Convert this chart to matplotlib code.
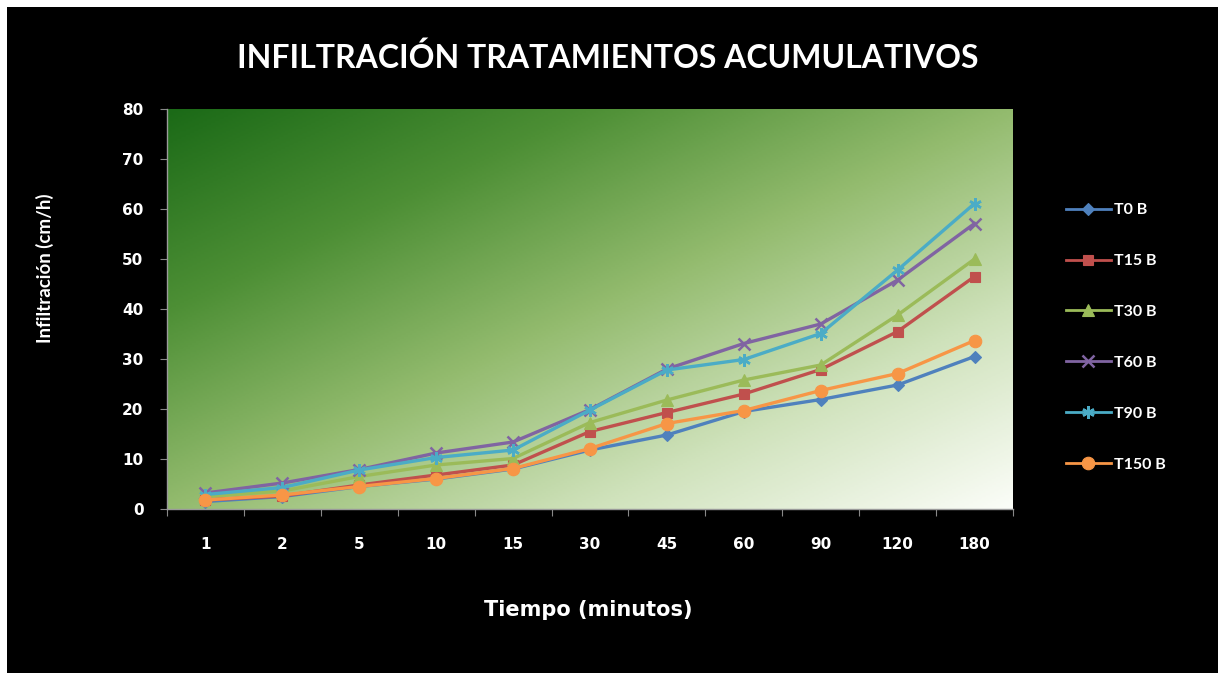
import numpy as np
import matplotlib
matplotlib.use("Agg")
import matplotlib.pyplot as plt
from matplotlib.colors import LinearSegmentedColormap
from matplotlib.patches import Rectangle

# tiempos de medida (min) y series acumuladas (cm/h)
tiempos = ["1", "2", "5", "10", "15", "30", "45", "60", "90", "120", "180"]
t0 = [1.5, 2.5, 4.5, 6.0, 8.0, 11.8, 14.8, 19.5, 21.9, 24.8, 30.5]
t15 = [1.8, 2.6, 4.8, 6.8, 8.8, 15.5, 19.3, 23.0, 27.9, 35.5, 46.5]
t30 = [2.5, 3.6, 6.5, 8.8, 10.1, 17.3, 21.8, 25.8, 28.8, 38.8, 50.0]
t60 = [3.2, 5.2, 7.9, 11.2, 13.4, 19.9, 28.0, 33.1, 37.0, 45.8, 57.1]
t90 = [2.9, 4.3, 7.8, 10.3, 11.8, 19.8, 27.8, 29.9, 35.1, 47.8, 61.1]
t150 = [1.8, 2.8, 4.5, 6.1, 8.1, 12.1, 17.1, 19.7, 23.7, 27.1, 33.7]

nombres = ["T0 B", "T15 B", "T30 B", "T60 B", "T90 B", "T150 B"]
series = [t0, t15, t30, t60, t90, t150]
colores = ["#4F81BD", "#C0504D", "#9BBB59", "#8064A2", "#4BACC6", "#F79646"]
marcas = ["D", "s", "^", "x", (6, 2, 0), "o"]
tamanos = [6, 7, 8, 8, 9, 9]

fig = plt.figure(figsize=(12.18, 6.73), dpi=100)
fig.patch.set_facecolor("white")
# fondo negro con borde blanco arriba e izquierda
fig.patches.append(Rectangle((7 / 1218, 0), 1, 1 - 7 / 673, transform=fig.transFigure,
                             facecolor="black", edgecolor="none", zorder=-10))

ax = fig.add_axes([167 / 1218, 164 / 673, 846 / 1218, 400 / 673])
ax.set_facecolor("none")

# degradado verde en diagonal, oscuro arriba a la izquierda
verde = LinearSegmentedColormap.from_list(
    "verde", [(0.0, "#1b6a17"), (0.25, "#4d8f35"), (0.5, "#93bb6e"),
              (0.75, "#cfe2bb"), (1.0, "#fbfdf8")])
gx, gy = np.meshgrid(np.linspace(0, 1, 400), np.linspace(0, 1, 200))
grad = (gx + gy) / 2
ax.imshow(grad, cmap=verde, extent=[-0.5, 10.5, 0, 80], aspect="auto",
          origin="upper", zorder=0, vmin=0, vmax=1)

x = np.arange(len(tiempos))
for vals, nom, col, mk, ms in zip(series, nombres, colores, marcas, tamanos):
    ax.plot(x, vals, color=col, lw=2.4, marker=mk, ms=ms, mec=col,
            mew=1.8 if mk in ("x", (6, 2, 0)) else 0.8, label=nom, zorder=3)

ax.set_xlim(-0.5, 10.5)
ax.set_ylim(0, 80)
ax.set_yticks(np.arange(0, 81, 10))
ax.set_xticks(np.arange(-0.5, 11, 1))
ax.set_xticklabels([])
ax.set_xticks(x, minor=True)
ax.set_xticklabels(tiempos, minor=True)
ax.tick_params(axis="x", which="minor", length=0, pad=20)
ax.tick_params(axis="x", which="major", length=5, color="#888888", direction="out")
ax.tick_params(axis="y", length=5, color="#888888", pad=12)
for lab in ax.get_yticklabels() + ax.get_xticklabels(minor=True):
    lab.set_color("white")
    lab.set_fontweight("bold")
    lab.set_fontsize(11)
    lab.set_fontfamily("DejaVu Sans")

for s in ["top", "right"]:
    ax.spines[s].set_visible(False)
for s in ["left", "bottom"]:
    ax.spines[s].set_color("#9a9a9a")
    ax.spines[s].set_linewidth(1.0)

fig.text(608 / 1218, 1 - 58 / 673, "INFILTRACIÓN TRATAMIENTOS ACUMULATIVOS",
         color="white", fontsize=23, fontweight="bold", family="Lato",
         ha="center", va="center")
fig.text(45 / 1218, 1 - 268 / 673, "Infiltración (cm/h)", color="white",
         fontsize=13.5, fontweight="bold", family="Lato", rotation=90,
         ha="center", va="center")
fig.text(588 / 1218, 1 - 610 / 673, "Tiempo (minutos)", color="white",
         fontsize=15, fontweight="bold", family="DejaVu Sans",
         ha="center", va="center")

leg = ax.legend(loc="upper left", bbox_to_anchor=(1066 / 1218, 1 - 203 / 673),
                bbox_transform=fig.transFigure, frameon=False,
                prop={"family": "Lato", "weight": "bold", "size": 11.5},
                labelspacing=2.3, handlelength=2.8, handletextpad=0.2,
                borderaxespad=0, borderpad=0)
for t in leg.get_texts():
    t.set_color("white")
for h in leg.legend_handles:
    h.set_linewidth(2.0)

fig.savefig("out.png", dpi=100, facecolor=fig.get_facecolor())
